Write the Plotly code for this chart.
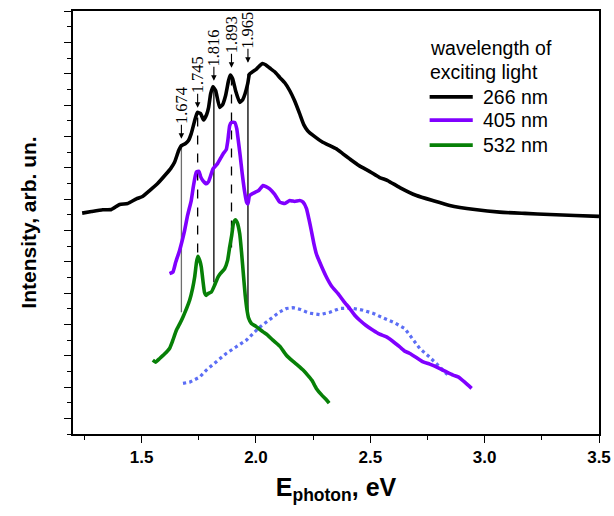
import plotly.graph_objects as go

# Photoluminescence spectra under different excitation wavelengths
energy_266 = [1.240, 1.281, 1.330, 1.368, 1.404, 1.439, 1.477, 1.504, 1.535, 1.570,
              1.608, 1.627, 1.644, 1.662, 1.674, 1.692, 1.705, 1.717, 1.732, 1.744,
              1.758, 1.771, 1.784, 1.793, 1.802, 1.812, 1.824, 1.841, 1.854, 1.867,
              1.880, 1.888, 1.898, 1.911, 1.929, 1.942, 1.952, 1.964, 1.972, 2.002,
              2.016, 2.028, 2.042, 2.060, 2.082, 2.104, 2.126, 2.148, 2.169, 2.191,
              2.209, 2.226, 2.257, 2.292, 2.323, 2.352, 2.379, 2.410, 2.451, 2.498,
              2.541, 2.576, 2.629, 2.702, 2.773, 2.847, 2.957, 3.066, 3.176, 3.285,
              3.395, 3.500]
intensity_266 = [14.10, 14.20, 14.31, 14.33, 14.65, 14.71, 15.01, 15.16, 15.54, 15.99,
                 16.61, 16.94, 17.34, 18.09, 18.41, 18.54, 18.73, 19.17, 20.00, 20.53,
                 20.45, 20.04, 20.38, 20.85, 21.72, 22.17, 21.91, 20.85, 21.02, 21.59,
                 22.55, 22.91, 22.68, 21.91, 21.17, 21.34, 21.70, 22.36, 22.97, 23.29,
                 23.50, 23.65, 23.57, 23.36, 23.12, 22.76, 22.42, 21.91, 21.27, 20.45,
                 19.75, 19.36, 18.98, 18.62, 18.41, 18.20, 17.90, 17.56, 17.13, 16.75,
                 16.37, 16.18, 15.73, 15.22, 14.90, 14.59, 14.33, 14.16, 14.08, 14.01,
                 13.95, 13.89]

energy_405 = [1.622, 1.637, 1.649, 1.666, 1.688, 1.701, 1.717, 1.727, 1.739, 1.751,
              1.758, 1.768, 1.783, 1.793, 1.812, 1.832, 1.856, 1.870, 1.877, 1.885,
              1.892, 1.907, 1.916, 1.921, 1.931, 1.940, 1.951, 1.959, 1.965, 1.972,
              1.994, 2.012, 2.031, 2.042, 2.060, 2.082, 2.104, 2.126, 2.148, 2.169,
              2.191, 2.206, 2.221, 2.231, 2.242, 2.253, 2.264, 2.279, 2.308, 2.331,
              2.359, 2.384, 2.410, 2.432, 2.454, 2.480, 2.512, 2.541, 2.571, 2.598,
              2.629, 2.651, 2.673, 2.699, 2.731, 2.760, 2.804, 2.835, 2.862, 2.884,
              2.913, 2.943]
intensity_405 = [10.24, 10.34, 10.96, 11.72, 12.99, 13.95, 14.90, 15.86, 16.71, 16.77,
                 16.43, 16.18, 15.97, 16.11, 16.92, 17.26, 17.88, 18.15, 18.73, 19.68,
                 19.89, 19.89, 19.49, 18.94, 17.77, 16.61, 15.41, 14.80, 14.69, 15.22,
                 15.41, 15.54, 15.86, 15.80, 15.65, 15.29, 14.80, 14.71, 14.90, 14.84,
                 14.90, 14.80, 14.39, 13.76, 12.99, 12.17, 11.51, 10.96, 10.02, 9.43,
                 8.96, 8.47, 8.01, 7.58, 7.26, 6.94, 6.62, 6.37, 6.20, 5.92,
                 5.56, 5.29, 5.14, 4.90, 4.60, 4.46, 4.18, 3.95, 3.76, 3.65,
                 3.31, 2.91]

energy_532 = [1.549, 1.561, 1.579, 1.600, 1.622, 1.635, 1.652, 1.666, 1.681, 1.697,
              1.710, 1.723, 1.732, 1.740, 1.746, 1.754, 1.761, 1.769, 1.775, 1.783,
              1.793, 1.805, 1.819, 1.834, 1.845, 1.863, 1.876, 1.885, 1.894, 1.902,
              1.910, 1.918, 1.929, 1.937, 1.946, 1.953, 1.961, 1.968, 1.980, 1.999,
              2.031, 2.051, 2.074, 2.104, 2.133, 2.161, 2.182, 2.206, 2.226, 2.244,
              2.264, 2.288, 2.305, 2.320]
intensity_532 = [4.71, 4.59, 4.82, 5.10, 5.46, 5.92, 6.62, 7.01, 7.47, 8.03,
                 8.54, 9.30, 10.02, 10.96, 11.34, 11.08, 10.66, 9.68, 9.04, 8.85,
                 8.98, 9.06, 9.49, 10.02, 10.25, 10.55, 11.08, 11.93, 12.68, 13.50,
                 13.68, 13.50, 12.78, 11.59, 10.02, 8.85, 7.90, 7.39, 7.05, 6.88,
                 6.52, 6.31, 5.99, 5.61, 5.03, 4.65, 4.39, 4.08, 3.76, 3.44,
                 2.91, 2.48, 2.23, 1.97]

# Broad band (dotted curve)
energy_band = [1.681, 1.710, 1.754, 1.783, 1.819, 1.870, 1.911, 1.958, 1.987, 2.016,
               2.046, 2.073, 2.104, 2.133, 2.162, 2.191, 2.235, 2.279, 2.323, 2.366,
               2.418, 2.468, 2.511, 2.556, 2.607, 2.651, 2.681, 2.716, 2.760, 2.804,
               2.847]
intensity_band = [3.23, 3.31, 3.63, 4.08, 4.52, 5.14, 5.54, 5.99, 6.41, 6.82,
                  7.15, 7.45, 7.79, 8.01, 8.06, 7.96, 7.71, 7.62, 7.77, 8.01,
                  8.04, 7.90, 7.71, 7.41, 7.09, 6.73, 6.18, 5.46, 4.90, 4.29,
                  3.65]

# Marked peak energies (eV) and the extent of their guide lines
peak_energy = [1.674, 1.745, 1.816, 1.893, 1.965]
peak_line_top = [18.41, 20.25, 22.04, 22.80, 22.99]
peak_line_bottom = [7.77, 11.59, 9.68, 11.91, 7.77]
peak_arrow_tip = [18.85, 20.83, 22.55, 23.38, 23.69]
peak_line_dash = ["solid", "dash", "solid", "dash", "solid"]
peak_line_color = ["#6e6e6e", "#000000", "#000000", "#000000", "#000000"]

series_names = ["266 nm", "405 nm", "532 nm"]
series_colors = ["#000000", "#8000ff", "#078007"]

fig = go.Figure()

fig.add_trace(go.Scatter(x=energy_band, y=intensity_band, mode="lines",
                         line=dict(color="#5c6ef5", width=3.2, dash="dot"),
                         showlegend=False))
for xs, ys, name, col in zip([energy_266, energy_405, energy_532],
                             [intensity_266, intensity_405, intensity_532],
                             series_names, series_colors):
    fig.add_trace(go.Scatter(x=xs, y=ys, mode="lines", name=name,
                             line=dict(color=col, width=3.6, shape="spline", smoothing=0.4),
                             showlegend=False))

# Guide lines and rotated, arrowed labels for the peaks
for e, top, bot, tip, dash, col in zip(peak_energy, peak_line_top, peak_line_bottom,
                                       peak_arrow_tip, peak_line_dash, peak_line_color):
    fig.add_shape(type="line", x0=e, x1=e, y0=bot, y1=top, xref="x", yref="y",
                  line=dict(color=col, width=1.3, dash=dash), layer="below")
    fig.add_annotation(x=e, y=tip, xref="x", yref="y", text=f"{e:.3f}",
                       textangle=-90, showarrow=True, ax=0, ay=-33,
                       arrowhead=2, arrowsize=1, arrowwidth=1.1, arrowcolor="black",
                       standoff=0, borderpad=0,
                       font=dict(family="Liberation Serif, Times New Roman, serif",
                                 size=16.5, color="black"))

# Legend drawn by hand
legend_font = dict(family="Arial, Liberation Sans, sans-serif", size=19.5, color="black")
fig.add_annotation(x=0.675, y=0.9125, xref="paper", yref="paper", text="wavelength of",
                   showarrow=False, xanchor="left", yanchor="middle", font=legend_font)
fig.add_annotation(x=0.675, y=0.856, xref="paper", yref="paper", text="exciting light",
                   showarrow=False, xanchor="left", yanchor="middle", font=legend_font)
legend_rows = [0.797, 0.742, 0.683]
for name, col, yp in zip(series_names, series_colors, legend_rows):
    fig.add_shape(type="line", x0=0.678, x1=0.760, y0=yp, y1=yp, xref="paper",
                  yref="paper", line=dict(color=col, width=3.6))
    fig.add_annotation(x=0.7755, y=yp, xref="paper", yref="paper", text=name,
                       showarrow=False, xanchor="left", yanchor="middle", font=legend_font)

fig.update_layout(
    width=614, height=516,
    margin=dict(l=73, r=15, t=11, b=82, autoexpand=False),
    paper_bgcolor="white", plot_bgcolor="white",
    font=dict(family="Arial, Liberation Sans, sans-serif", color="black"),
    xaxis=dict(range=[1.2, 3.5], tick0=1.5, dtick=0.5, tickformat=".1f",
               automargin=False,
               ticks="outside", ticklen=7, tickwidth=1.4, tickcolor="black",
               minor=dict(dtick=0.25, tick0=1.25, ticks="outside", ticklen=4,
                          tickwidth=1.2, tickcolor="black"),
               showline=True, linecolor="black", linewidth=1.6, mirror=True,
               showgrid=False, zeroline=False,
               tickfont=dict(size=17, family="Arial, Liberation Sans, sans-serif",
                             weight="bold"),
               title=dict(text="E<sub>photon</sub>, eV", standoff=12,
                          font=dict(size=25, weight="bold"))),
    yaxis=dict(range=[0, 27], tick0=1, dtick=2, showticklabels=False,
               automargin=False,
               ticks="outside", ticklen=7, tickwidth=1.4, tickcolor="black",
               minor=dict(dtick=1, tick0=0, ticks="outside", ticklen=4,
                          tickwidth=1.2, tickcolor="black"),
               showline=True, linecolor="black", linewidth=1.6, mirror=True,
               showgrid=False, zeroline=False,
               title=dict(text="Intensity, arb. un.", standoff=22,
                          font=dict(size=21, weight="bold"))),
)

fig.write_html("out.html")
